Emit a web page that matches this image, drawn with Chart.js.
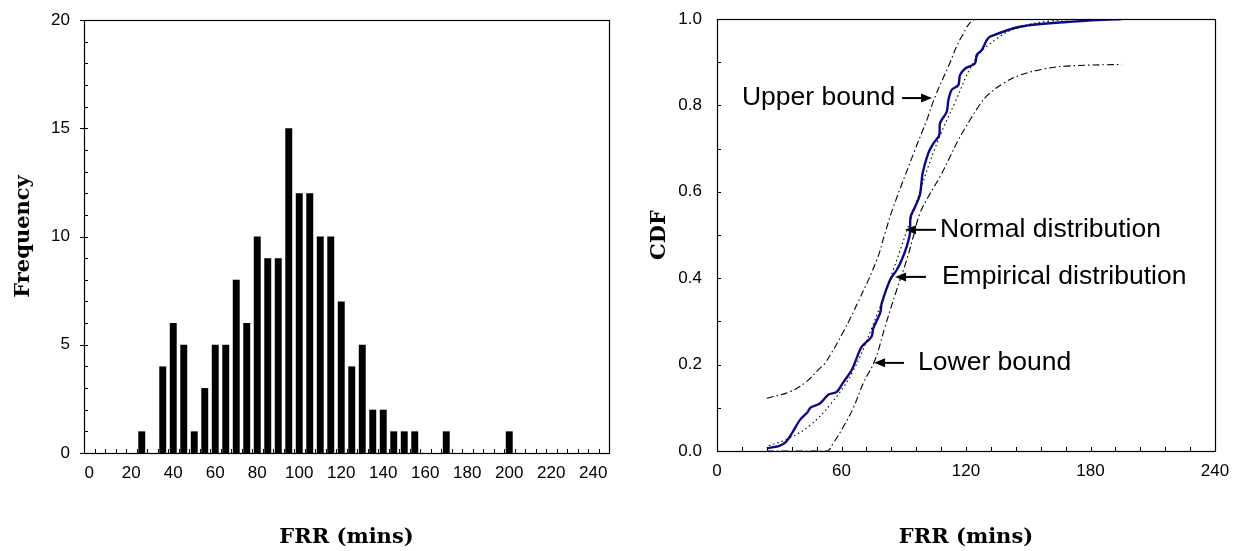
<!DOCTYPE html>
<html><head><meta charset="utf-8">
<script src="https://cdn.jsdelivr.net/npm/chart.js@4/dist/chart.umd.min.js"></script>
<style>
html,body{margin:0;padding:0;background:#fff;}
body{width:1247px;height:551px;position:relative;overflow:hidden;}
#c1{position:absolute;left:0;top:0;}
#c2{position:absolute;left:627px;top:0;}
</style></head><body>
<canvas id="c1" width="620" height="551"></canvas>
<canvas id="c2" width="620" height="551"></canvas>
<script>
// ---------- Histogram data ----------
const binLabels = ['0','5','10','15','20','25','30','35','40','45','50','55','60','65','70','75','80','85','90','95',
  '100','105','110','115','120','125','130','135','140','145','150','155','160','165','170','175','180','185','190','195',
  '200','205','210','215','220','225','230','235','240','245'];
const frequency = [0,0,0,0,0,1,0,4,6,5,1,3,5,5,8,6,10,9,9,15,
  12,12,10,10,7,4,5,2,2,1,1,1,0,0,1,0,0,0,0,0,
  1,0,0,0,0,0,0,0,0,0];
const histYTicks = [0,5,10,15,20];

// ---------- CDF data ----------
const empX = [24,30,33,36,40,43.5,45,49.6,53.6,57.7,61,65,67.3,69.7,74.5,75.3,78.6,79.4,83.4,86.6,89,91.4,93,93.3,95.4,97.8,99.1,101.8,104.3,107.1,107.5,110.7,111.5,113.1,116.3,117.1,119.5,124.3,125.2,127.6,130,131.6,146,168.5,195];
const empY = [0.006,0.012,0.02,0.04,0.072,0.089,0.10,0.11,0.13,0.137,0.16,0.188,0.215,0.241,0.265,0.284,0.319,0.342,0.396,0.419,0.442,0.473,0.504,0.542,0.565,0.593,0.643,0.689,0.712,0.731,0.759,0.785,0.812,0.836,0.847,0.87,0.885,0.897,0.917,0.928,0.951,0.959,0.982,0.993,1.0];
const normX = [25,35,45,55,65,75,85,95,105,115,125,135,145,160,180,195];
const normY = [0.012,0.03,0.06,0.11,0.18,0.29,0.42,0.56,0.70,0.81,0.91,0.955,0.98,0.995,1.0,1.0];
const upperX = [24,35,43,48.8,52,60.9,68.1,77,81,85,95.4,101.1,105.1,111.5,117.9,125.2,160,195];
const upperY = [0.122,0.137,0.16,0.188,0.203,0.276,0.346,0.442,0.505,0.565,0.697,0.766,0.82,0.89,0.959,1.0,1.0,1.0];
const lowerX = [24,52.8,56,60.9,65.7,70.5,76.1,81,86.6,91.4,94.6,97.8,102.7,107.5,112.3,116.3,121.9,126.7,130.7,138,146,157.3,168.5,195];
const lowerY = [0,0,0.018,0.056,0.10,0.157,0.21,0.288,0.373,0.442,0.496,0.55,0.596,0.635,0.681,0.72,0.766,0.802,0.825,0.851,0.87,0.884,0.891,0.895];
const cdfXLabels = [0,60,120,180,240];

// ---------- Annotations ----------
const noteTexts = ['Upper bound','Normal distribution','Empirical distribution','Lower bound'];
const noteTextX = [12,107.5,108.4,96.9];
const noteY = [0.817,0.512,0.403,0.204];
const arrowTail = [89.2,105.5,100.7,90.1];
const arrowHead = [103.6,90.6,85.8,75.7];

const pts = (xs, ys) => xs.map((x, i) => ({x: x, y: ys[i]}));
const tickFont = {family: '"Liberation Sans", Arial, sans-serif', size: 17};
const titleFont = {family: '"DejaVu Serif", serif', size: 21, weight: 'bold'};

const boxPlugin = {
  id: 'box',
  afterDraw(chart) {
    const ctx = chart.ctx, a = chart.chartArea;
    ctx.save();
    ctx.strokeStyle = '#000';
    ctx.lineWidth = 1.2;
    ctx.strokeRect(Math.round(a.left) + 0.5, Math.round(a.top) + 0.5, Math.round(a.right - a.left), Math.round(a.bottom - a.top));
    ctx.restore();
  }
};

// Histogram chart
const histTicks = {
  id: 'histTicks',
  afterDraw(chart) {
    const ctx = chart.ctx, a = chart.chartArea;
    const xs = chart.scales.x, ys = chart.scales.y;
    ctx.save();
    ctx.strokeStyle = '#000'; ctx.lineWidth = 1;
    ctx.beginPath();
    for (let i = 0; i <= binLabels.length; i++) {
      const px = Math.round(xs.getPixelForValue(i - 0.5)) + 0.5;
      ctx.moveTo(px, a.bottom); ctx.lineTo(px, a.bottom - 4);
    }
    for (let v = 0; v <= 20; v++) {
      const py = Math.round(ys.getPixelForValue(v)) + 0.5;
      const major = histYTicks.includes(v);
      ctx.moveTo(a.left - (major ? 4 : 0), py); ctx.lineTo(a.left + 4, py);
    }
    ctx.stroke();
    ctx.restore();
  }
};

new Chart(document.getElementById('c1'), {
  type: 'bar',
  data: {labels: binLabels, datasets: [{data: frequency, backgroundColor: '#000', borderWidth: 0, barPercentage: 0.66, categoryPercentage: 1.0}]},
  options: {
    responsive: false, animation: false,
    layout: {padding: {top: 20, right: 11, bottom: 0, left: 0}},
    plugins: {legend: {display: false}, tooltip: {enabled: false}},
    scales: {
      x: {
        grid: {display: false, drawTicks: false}, border: {display: false},
        ticks: {autoSkip: false, maxRotation: 0, minRotation: 0, color: '#000', font: tickFont, padding: 10,
          callback: (v, i) => (i % 4 === 0 ? binLabels[i] : '')},
        title: {display: true, text: 'FRR (mins)', color: '#000', font: titleFont, padding: {top: 0, bottom: 1}},
        afterFit: s => { s.height = 98; s.paddingLeft = 0; s.paddingRight = 0; }
      },
      y: {
        min: 0, max: 20,
        grid: {display: false, drawTicks: false}, border: {display: false},
        ticks: {stepSize: 5, color: '#000', font: tickFont, padding: 14},
        title: {display: true, text: 'Frequency', color: '#000', font: titleFont, padding: {top: 11, bottom: 0}},
        afterFit: s => { s.width = 84; s.paddingTop = 0; s.paddingBottom = 0; }
      }
    }
  },
  plugins: [boxPlugin, histTicks]
});

// CDF chart
const cdfExtras = {
  id: 'cdfExtras',
  afterDraw(chart) {
    const ctx = chart.ctx, a = chart.chartArea;
    const xs = chart.scales.x, ys = chart.scales.y;
    ctx.save();
    ctx.strokeStyle = '#000'; ctx.lineWidth = 1;
    ctx.beginPath();
    for (let v = 0; v <= 240; v += 12) {
      const px = Math.round(xs.getPixelForValue(v)) + 0.5;
      ctx.moveTo(px, a.bottom); ctx.lineTo(px, a.bottom - 4);
    }
    for (let k = 0; k <= 10; k++) {
      const py = Math.round(ys.getPixelForValue(k / 10)) + 0.5;
      ctx.moveTo(a.left, py); ctx.lineTo(a.left + 4, py);
    }
    ctx.stroke();
    // annotations
    ctx.fillStyle = '#000';
    ctx.font = '26.5px "Liberation Sans", Arial, sans-serif';
    ctx.textBaseline = 'middle'; ctx.textAlign = 'left';
    for (let i = 0; i < noteTexts.length; i++) {
      const y = ys.getPixelForValue(noteY[i]);
      ctx.fillText(noteTexts[i], xs.getPixelForValue(noteTextX[i]), y);
      const t = xs.getPixelForValue(arrowTail[i]), h = xs.getPixelForValue(arrowHead[i]);
      const d = h > t ? 1 : -1;
      ctx.lineWidth = 2;
      ctx.beginPath(); ctx.moveTo(t, y); ctx.lineTo(h - d * 8, y); ctx.stroke();
      ctx.beginPath(); ctx.moveTo(h, y); ctx.lineTo(h - d * 11, y - 4.5); ctx.lineTo(h - d * 11, y + 4.5); ctx.closePath(); ctx.fill();
    }
    ctx.restore();
  }
};

const dashDot = [7, 3, 1.5, 3];
new Chart(document.getElementById('c2'), {
  type: 'line',
  data: {datasets: [
    {label: 'Upper bound', data: pts(upperX, upperY), borderColor: '#000', borderWidth: 1.1, borderDash: dashDot, pointRadius: 0, tension: 0.4, fill: false},
    {label: 'Lower bound', data: pts(lowerX, lowerY), borderColor: '#000', borderWidth: 1.1, borderDash: dashDot, pointRadius: 0, tension: 0.4, fill: false},
    {label: 'Normal distribution', data: pts(normX, normY), borderColor: '#000', borderWidth: 1.1, borderDash: [1.5, 3], pointRadius: 0, tension: 0.4, fill: false},
    {label: 'Empirical distribution', data: pts(empX, empY), borderColor: '#0b0b8a', borderWidth: 2.4, pointRadius: 0, tension: 0.3, fill: false}
  ]},
  options: {
    responsive: false, animation: false,
    layout: {padding: {top: 19, right: 32, bottom: 0, left: 0}},
    plugins: {legend: {display: false}, tooltip: {enabled: false}},
    scales: {
      x: {
        type: 'linear', min: 0, max: 240,
        grid: {display: false, drawTicks: false}, border: {display: false},
        ticks: {stepSize: 60, color: '#000', font: tickFont, padding: 10, maxRotation: 0,
          callback: v => (cdfXLabels.includes(v) ? String(v) : '')},
        title: {display: true, text: 'FRR (mins)', color: '#000', font: titleFont, padding: {top: 0, bottom: 1}},
        afterFit: s => { s.height = 100; s.paddingLeft = 0; s.paddingRight = 0; }
      },
      y: {
        min: 0, max: 1,
        grid: {display: false, drawTicks: false}, border: {display: false},
        ticks: {stepSize: 0.2, color: '#000', font: tickFont, padding: 15, callback: v => Number(v).toFixed(1)},
        title: {display: true, text: 'CDF', color: '#000', font: titleFont, padding: {top: 20, bottom: 0}},
        afterFit: s => { s.width = 90; s.paddingTop = 0; s.paddingBottom = 0; }
      }
    }
  },
  plugins: [boxPlugin, cdfExtras]
});
</script>
</body></html>
